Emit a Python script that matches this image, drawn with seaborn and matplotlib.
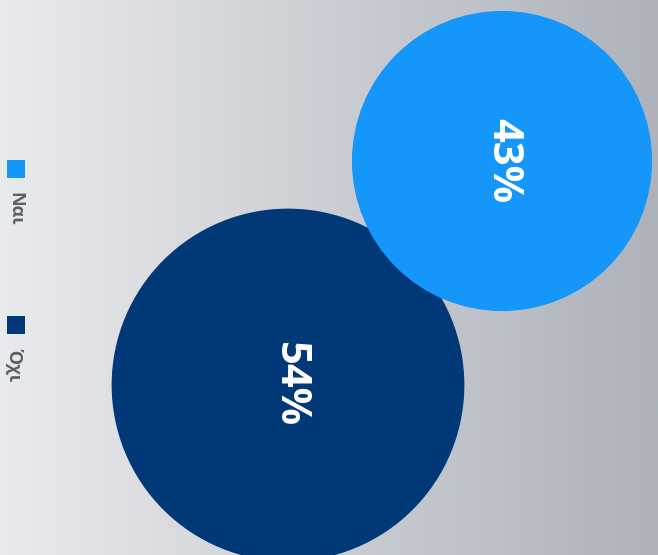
import numpy as np
import pandas as pd
import matplotlib
matplotlib.use('Agg')
import matplotlib.pyplot as plt
import seaborn as sns

# dados
categorias = ['Ναι', 'Όχι']
valores = [43, 54]
cores = ['#1496fb', '#003878']

# posicao das bolhas (layout em pixels)
pos_x = [502, 288]
pos_y = [161, 385]

sns.set_theme(style='white')
plt.rcParams['font.family'] = ['Open Sans', 'DejaVu Sans']

largura, altura = 658, 555
fig = plt.figure(figsize=(largura / 100, altura / 100), dpi=100)

# fundo em degrade
fundo = fig.add_axes([0, 0, 1, 1])
gradiente = np.linspace(0, 1, 256).reshape(1, -1)
cmap = matplotlib.colors.LinearSegmentedColormap.from_list('fundo', ['#e9eaec', '#adb2bb'])
fundo.imshow(gradiente, aspect='auto', cmap=cmap, extent=[0, 1, 0, 1])
fundo.axis('off')

ax = fig.add_axes([0, 0, 1, 1])
ax.patch.set_alpha(0)
df = pd.DataFrame({'cat': categorias, 'valor': valores, 'x': pos_x, 'y': pos_y})
# desenha a maior primeiro para a menor ficar por cima
df = df.sort_values('valor', ascending=False)
tamanhos = {54: 64500, 43: 46700}
sns.scatterplot(data=df, x='x', y='y', hue='cat', size='valor', sizes=tamanhos,
                palette=dict(zip(categorias, cores)), linewidth=0, alpha=1,
                legend=False, ax=ax)
for _, linha in df.iterrows():
    ax.text(linha['x'] + 1, linha['y'], f"{linha['valor']}%", color='white', fontsize=30,
            fontweight='bold', rotation=-90, ha='center', va='center')

ax.set_xlim(0, largura)
ax.set_ylim(altura, 0)
ax.axis('off')

# legenda rotacionada
leg_y = [169, 325]
for cat, cor, y in zip(categorias, cores, leg_y):
    ax.scatter([16], [y], marker='s', s=150, color=cor, linewidth=0)
    ax.text(15, y + 23, cat, rotation=-90, ha='center', va='top', fontsize=13,
            fontweight='bold', color='#5a5f68')

fig.savefig('out.png', dpi=100)
